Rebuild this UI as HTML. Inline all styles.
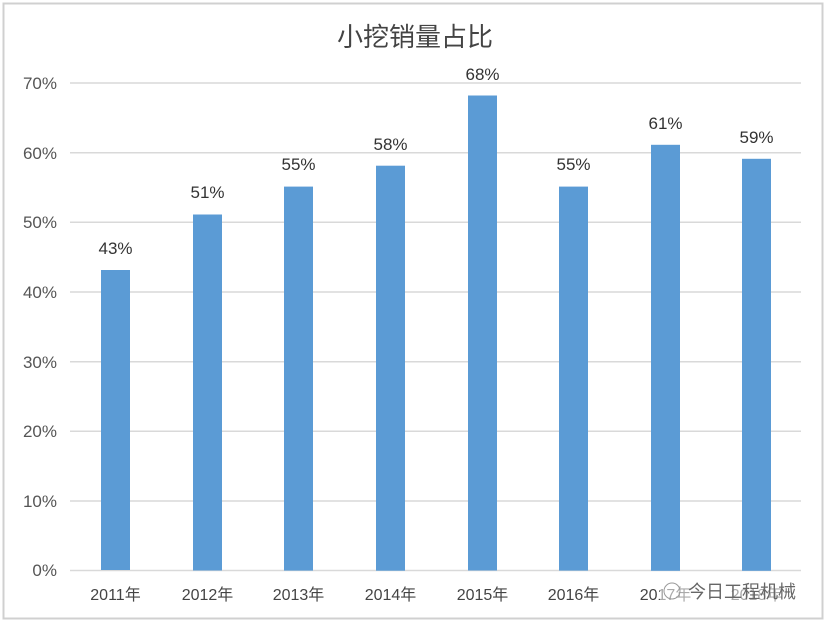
<!DOCTYPE html><html><head><meta charset="utf-8"><style>body{margin:0;background:#fff}svg{display:block}</style></head><body>
<svg width="831" height="625" viewBox="0 0 831 625" xmlns="http://www.w3.org/2000/svg" font-family="Liberation Sans, Noto Sans CJK SC, sans-serif">
<rect x="3.5" y="3.5" width="819" height="615" fill="#fff" stroke="#d0d0d0" stroke-width="2"/>
<text x="415" y="46" font-size="26" text-anchor="middle" fill="#444" font-family="Noto Sans CJK SC, sans-serif">小挖销量占比</text>
<g stroke="#d9d9d9" stroke-width="1.5">
<line x1="70" x2="801" y1="83" y2="83"/><line x1="70" x2="801" y1="152.7" y2="152.7"/><line x1="70" x2="801" y1="222.3" y2="222.3"/><line x1="70" x2="801" y1="292" y2="292"/><line x1="70" x2="801" y1="361.7" y2="361.7"/><line x1="70" x2="801" y1="431.3" y2="431.3"/><line x1="70" x2="801" y1="501" y2="501"/><line x1="70" x2="801" y1="570.5" y2="570.5"/>
</g>
<g font-size="17" fill="#555" text-anchor="end">
<text x="57" y="89">70%</text><text x="57" y="159">60%</text><text x="57" y="228">50%</text><text x="57" y="298">40%</text><text x="57" y="368">30%</text><text x="57" y="437">20%</text><text x="57" y="507">10%</text><text x="57" y="576">0%</text>
</g>
<g fill="#5b9bd5">
<rect x="101" y="270" width="29" height="300"/>
<rect x="193" y="214.5" width="29" height="356"/>
<rect x="284" y="186.6" width="29" height="384"/>
<rect x="376" y="165.7" width="29" height="405"/>
<rect x="468" y="95.5" width="29" height="475"/>
<rect x="559" y="186.6" width="29" height="384"/>
<rect x="651" y="144.8" width="29" height="426"/>
<rect x="742" y="158.8" width="29" height="412"/>
</g>
<g font-size="17" fill="#333" text-anchor="middle">
<text x="115.5" y="254">43%</text><text x="207.5" y="198">51%</text><text x="298.5" y="170">55%</text><text x="390.5" y="150">58%</text><text x="482.5" y="80">68%</text><text x="573.5" y="170">55%</text><text x="665.5" y="129">61%</text><text x="756.5" y="143">59%</text>
</g>
<g font-size="16" fill="#444" text-anchor="middle">
<text x="115.5" y="600">2011年</text><text x="207.5" y="600">2012年</text><text x="298.5" y="600">2013年</text><text x="390.5" y="600">2014年</text><text x="482.5" y="600">2015年</text><text x="573.5" y="600">2016年</text><text x="665.5" y="600">2017年</text><text x="756.5" y="600">2018年</text>
</g>
<rect x="660" y="580" width="150" height="24" fill="#fff" opacity="0.55"/>
<text x="688" y="598" font-size="18" fill="#666" font-family="Noto Sans CJK SC, sans-serif">今日工程机械</text>
<circle cx="672" cy="591" r="8" fill="none" stroke="#999" stroke-width="1"/>
</svg>
</body></html>
